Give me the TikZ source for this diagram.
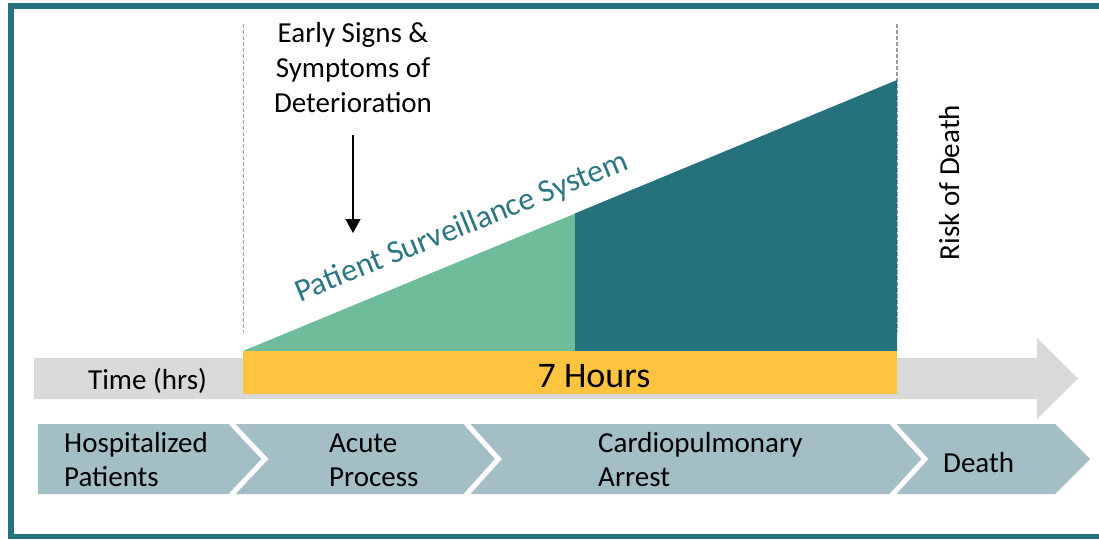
\documentclass[tikz,border=0pt]{standalone}
\usepackage{fontspec}
\setmainfont{Carlito}
\usetikzlibrary{arrows.meta}
\definecolor{frameteal}{HTML}{26737F}
\definecolor{darkteal}{HTML}{25727D}
\definecolor{lightgreen}{HTML}{6FBC9A}
\definecolor{barYellow}{HTML}{FEC43F}
\definecolor{arrowgray}{HTML}{D9D9D9}
\definecolor{chevblue}{HTML}{A3BEC4}
\definecolor{dashgray}{HTML}{9C9C9C}
\definecolor{textteal}{HTML}{2B7682}
\tikzset{
  lbl/.style={inner sep=0pt, font=\fontsize{29}{34}\selectfont},
  chev/.style={fill=chevblue, draw=none},
  sep/.style={draw=white, line width=5pt, line join=miter},
  guide/.style={draw=dashgray, line width=1.6pt, dash pattern=on 4pt off 2pt},
}
\begin{document}
\begin{tikzpicture}[x=1pt,y=1pt]
\useasboundingbox (0,0) rectangle (1099,539);
% frame
\draw[frameteal, line width=5.5pt, line join=miter] (1115,533) -- (11,533) -- (11,2.5) -- (1115,2.5);
% guides
\draw[guide] (243.5,515) -- (243.5,207);
\draw[guide] (897,515) -- (897,207);
% time arrow
\fill[arrowgray] (34,181) -- (1037,181) -- (1037,201) -- (1078,160.5) -- (1037,120) -- (1037,140) -- (34,140) -- cycle;
% risk areas
\fill[lightgreen] (243,188) -- (575.5,188) -- (575.5,325.6) -- cycle;
\fill[darkteal] (575,188) -- (897,188) -- (897,459) -- (575,325.6) -- cycle;
% yellow bar
\fill[barYellow] (243,145) rectangle (897,188);
\node[lbl, font=\fontsize{36}{40}\selectfont, anchor=base] (hours) at (594,152) {7 Hours};
\node[lbl, anchor=base west] (time) at (88,150) {Time (hrs)};
% early signs
\node[lbl, anchor=base] (early) at (353,496) {\fontsize{29}{35}\selectfont\begin{tabular}[t]{@{}c@{}}Early Signs \&\\Symptoms of\\Deterioration\end{tabular}};
\coordinate (arrS) at (353,404);
\coordinate (arrE) at (353,306);
\draw[line width=1.5pt, -{Triangle[width=15pt,length=14pt]}] (arrS) -- (arrE);
% surveillance
\node[lbl, font=\fontsize{32}{36}\selectfont, text=textteal, rotate=22, anchor=base] (pss) at (465,303.5) {Patient Surveillance System};
% risk of death
\node[lbl, rotate=90, anchor=base] (risk) at (959,356.5) {Risk of Death};
% chevrons
\fill[chev] (38,115) -- (231,115) -- (265,80) -- (231,45) -- (38,45) -- cycle;
\fill[chev] (231,115) -- (466,115) -- (498.5,80) -- (466,45) -- (231,45) -- (265,80) -- cycle;
\fill[chev] (466,115) -- (892,115) -- (925,80) -- (892,45) -- (466,45) -- (498.5,80) -- cycle;
\fill[chev] (892,115) -- (1055,115) -- (1090,80) -- (1055,45) -- (892,45) -- (925,80) -- cycle;
\draw[sep] (231,116) -- (265,80) -- (231,44);
\draw[sep] (466,116) -- (498.5,80) -- (466,44);
\draw[sep] (892,116) -- (925,80) -- (892,44);
\node[lbl, anchor=base west] (hosp) at (64,87) {\begin{tabular}[t]{@{}l@{}}Hospitalized\\Patients\end{tabular}};
\node[lbl, anchor=base west] (acute) at (329,87) {\begin{tabular}[t]{@{}l@{}}Acute\\Process\end{tabular}};
\node[lbl, anchor=base west] (cardio) at (598,87) {\begin{tabular}[t]{@{}l@{}}Cardiopulmonary\\Arrest\end{tabular}};
\node[lbl, anchor=base west] (death) at (943,67) {Death};
\end{tikzpicture}
\end{document}
